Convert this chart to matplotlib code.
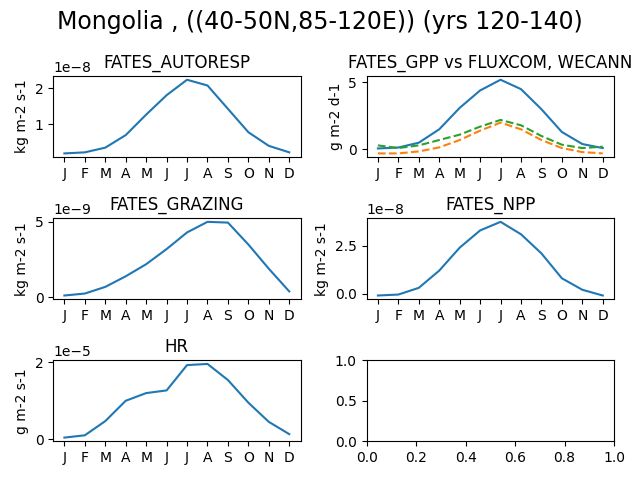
import numpy as np
import matplotlib.pyplot as plt

months = ["J", "F", "M", "A", "M", "J", "J", "A", "S", "O", "N", "D"]
autoresp = np.array([0.19, 0.22, 0.35, 0.7, 1.27, 1.81, 2.24, 2.08, 1.43, 0.78, 0.4, 0.22]) * 1e-8
gpp = [0.07, 0.14, 0.5, 1.5, 3.1, 4.4, 5.2, 4.5, 3.0, 1.3, 0.4, 0.1]
gpp_fluxcom = [0.3, 0.1, 0.3, 0.7, 1.1, 1.7, 2.2, 1.8, 1.0, 0.35, 0.1, 0.2]
gpp_wecann = [-0.3, -0.3, -0.15, 0.15, 0.7, 1.4, 2.0, 1.5, 0.7, 0.1, -0.2, -0.3]
grazing = np.array([0.13, 0.26, 0.7, 1.4, 2.2, 3.2, 4.3, 5.0, 4.95, 3.5, 1.9, 0.4]) * 1e-9
npp = np.array([-0.1, -0.05, 0.3, 1.2, 2.4, 3.3, 3.75, 3.1, 2.1, 0.8, 0.2, -0.1]) * 1e-8
hr = np.array([0.04, 0.1, 0.47, 1.0, 1.2, 1.27, 1.93, 1.96, 1.54, 0.95, 0.45, 0.13]) * 1e-5

x = np.arange(12)
fig, axs = plt.subplots(3, 2, figsize=(6.4, 4.8))
fig.suptitle("Mongolia , ((40-50N,85-120E)) (yrs 120-140)", fontsize=17)

def panel(ax, y, title, ylabel):
    ax.plot(x, y)
    ax.set_title(title)
    ax.set_ylabel(ylabel)
    ax.set_xticks(x)
    ax.set_xticklabels(months)

panel(axs[0, 0], autoresp, "FATES_AUTORESP", "kg m-2 s-1")
panel(axs[0, 1], gpp, "FATES_GPP vs FLUXCOM, WECANN", "g m-2 d-1")
axs[0, 1].plot(x, gpp_wecann, "--")
axs[0, 1].plot(x, gpp_fluxcom, "--")
panel(axs[1, 0], grazing, "FATES_GRAZING", "kg m-2 s-1")
panel(axs[1, 1], npp, "FATES_NPP", "kg m-2 s-1")
panel(axs[2, 0], hr, "HR", "g m-2 s-1")

plt.tight_layout()
plt.savefig("out.png", dpi=100)
